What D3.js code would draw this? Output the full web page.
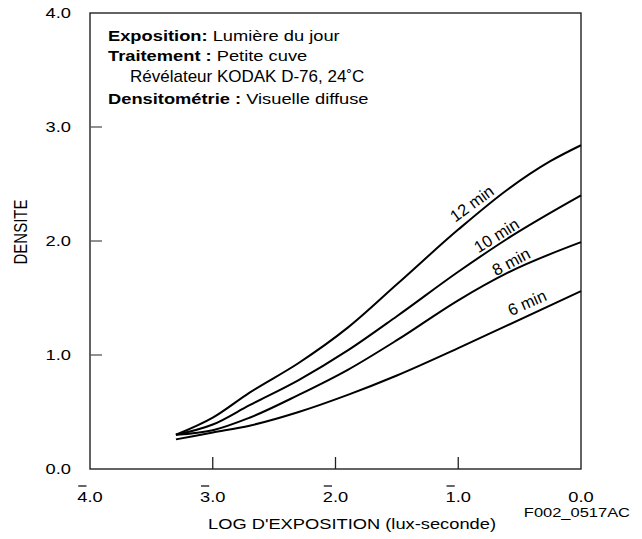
<!DOCTYPE html>
<html><head><meta charset="utf-8">
<script src="https://cdn.jsdelivr.net/npm/d3@7"></script>
<style>
html,body{margin:0;padding:0;background:#fff;}
text{font-family:"Liberation Sans",Arial,Helvetica,sans-serif;fill:#000;}
</style></head>
<body>
<svg id="c" width="642" height="539"></svg>
<script>
// ---- data ----
const xTicks = [-4, -3, -2, -1, 0];
const xTickLabels = ["4.0", "3.0", "2.0", "1.0", "0.0"];
const xTickBar = [true, true, true, true, false];
const yTicks = [0, 1, 2, 3, 4];
const yTickLabels = ["0.0", "1.0", "2.0", "3.0", "4.0"];

const logE12 = [-3.3, -3.0, -2.7, -2.3, -1.9, -1.5, -1.0, -0.6, -0.25, 0];
const dens12 = [0.30, 0.45, 0.67, 0.93, 1.24, 1.62, 2.10, 2.45, 2.70, 2.84];
const logE10 = [-3.3, -3.0, -2.7, -2.3, -1.9, -1.5, -1.0, -0.6, 0];
const dens10 = [0.30, 0.39, 0.56, 0.78, 1.04, 1.34, 1.73, 2.02, 2.40];
const logE8 = [-3.3, -3.0, -2.7, -2.3, -1.9, -1.5, -1.0, -0.6, 0];
const dens8 = [0.30, 0.34, 0.45, 0.65, 0.87, 1.13, 1.48, 1.72, 1.99];
const logE6 = [-3.3, -3.0, -2.7, -2.3, -1.9, -1.5, -1.0, -0.6, 0];
const dens6 = [0.26, 0.32, 0.38, 0.50, 0.65, 0.82, 1.06, 1.26, 1.56];

const seriesNames = ["12 min", "10 min", "8 min", "6 min"];
const labelX = [-0.89, -0.69, -0.57, -0.44];
const labelY = [2.33, 2.05, 1.82, 1.46];
const labelAngle = [-36, -32, -28, -24];

const noteLines = [
  {bold: "Exposition:", reg: " Lumière du jour"},
  {bold: "Traitement :", reg: " Petite cuve"},
  {bold: "", reg: "Révélateur KODAK D-76, 24˚C"},
  {bold: "Densitométrie :", reg: " Visuelle diffuse"}
];
const xTitle = "LOG D'EXPOSITION (lux-seconde)";
const yTitle = "DENSITE";
const figId = "F002_0517AC";

// ---- layout ----
const L = 90, R = 581, T = 13, B = 469;
const SX = 1.22; // horizontal stretch of the lettering
const svg = d3.select("#c");
const x = d3.scaleLinear().domain([-4, 0]).range([L, R]);
const y = d3.scaleLinear().domain([0, 4]).range([B, T]);

function stext(parent, px, py, sx, size) {
  return parent.append("text").attr("transform", `translate(${px},${py}) scale(${sx},1)`)
    .attr("font-size", size);
}

// frame
svg.append("rect").attr("x", L).attr("y", T).attr("width", R - L).attr("height", B - T)
  .attr("fill", "none").attr("stroke", "#222").attr("stroke-width", 1.4);

// inner ticks
svg.append("g").selectAll("line").data(xTicks.filter(d => d > -4 && d < 0)).join("line")
  .attr("x1", d => x(d)).attr("x2", d => x(d)).attr("y1", B).attr("y2", B - 12)
  .attr("stroke", "#222").attr("stroke-width", 1.3);
svg.append("g").selectAll("line").data(yTicks.filter(d => d > 0 && d < 4)).join("line")
  .attr("y1", d => y(d)).attr("y2", d => y(d)).attr("x1", L).attr("x2", L + 12)
  .attr("stroke", "#555").attr("stroke-width", 1.3);

// y tick labels
yTicks.forEach((d, i) => {
  stext(svg, 71, y(d), SX, 15).attr("dy", "0.36em").attr("text-anchor", "end").text(yTickLabels[i]);
});

// x tick labels with bar over characteristic
xTicks.forEach((d, i) => {
  const g = svg.append("g").attr("transform", `translate(${x(d)},502) scale(${SX},1)`);
  const t = g.append("text").attr("text-anchor", "middle").attr("font-size", 15).text(xTickLabels[i]);
  if (xTickBar[i]) {
    const node = t.node();
    const bb = node.getBBox();
    const w = node.getSubStringLength(0, 1);
    g.append("line").attr("x1", bb.x + 0.8).attr("x2", bb.x + w - 0.8)
      .attr("y1", -16).attr("y2", -16).attr("stroke", "#000").attr("stroke-width", 1.2);
  }
});

// titles
stext(svg, 352, 529, SX, 15).attr("text-anchor", "middle").text(xTitle);
svg.append("text").attr("transform", `translate(27,232) scale(${SX},1) rotate(-90)`)
  .attr("text-anchor", "middle").attr("font-size", 15).text(yTitle);
stext(svg, 630, 517, SX, 13.5).attr("text-anchor", "end").text(figId);

// notes
const noteY = [41, 61, 82, 104];
noteLines.forEach((n, i) => {
  const t = n.bold ? stext(svg, 108, noteY[i], SX, 15) : stext(svg, 130, noteY[i], 1.0, 17);
  if (n.bold) t.append("tspan").attr("font-weight", "bold").text(n.bold);
  t.append("tspan").text(n.reg);
});

// curves
const series = [
  {xs: logE12, ys: dens12}, {xs: logE10, ys: dens10},
  {xs: logE8, ys: dens8}, {xs: logE6, ys: dens6}
];
const line = d3.line().x(d => x(d[0])).y(d => y(d[1])).curve(d3.curveMonotoneX);
svg.append("g").selectAll("path").data(series).join("path")
  .attr("d", s => line(s.xs.map((v, k) => [v, s.ys[k]])))
  .attr("fill", "none").attr("stroke", "#000").attr("stroke-width", 2);

// curve labels
svg.append("g").selectAll("text").data(seriesNames).join("text")
  .attr("transform", (d, i) => `translate(${x(labelX[i])},${y(labelY[i])}) rotate(${labelAngle[i]})`)
  .attr("text-anchor", "middle").attr("dy", "0.36em").attr("font-size", 16.5)
  .text(d => d);
</script>
</body></html>
